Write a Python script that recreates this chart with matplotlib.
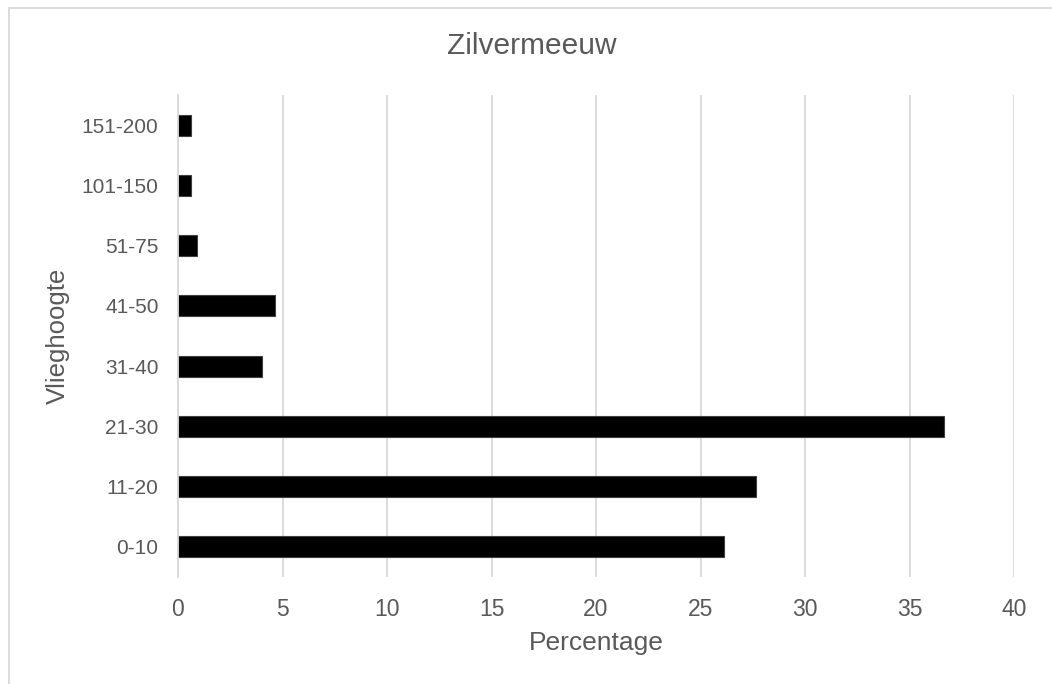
import matplotlib
matplotlib.use("Agg")
import matplotlib.pyplot as plt
from matplotlib.lines import Line2D

# flight height classes (bottom to top) and share of observations
hoogte = ["0-10", "11-20", "21-30", "31-40", "41-50", "51-75", "101-150", "151-200"]
percentage = [26.1, 27.65, 36.65, 4.0, 4.65, 0.9, 0.6, 0.6]

tekst_kleur = "#595959"
grid_kleur = "#d9d9d9"

plt.rcParams["font.family"] = ["Liberation Sans", "DejaVu Sans"]

fig = plt.figure(figsize=(10.52, 6.84), dpi=100)
ax = fig.add_axes([0.1692, 0.1564, 0.7947, 0.7047])

posities = list(range(len(hoogte)))
ax.barh(posities, percentage, height=0.35, color="black",
        edgecolor="#404040", linewidth=0.8, zorder=3)

ax.set_xlim(0, 40)
ax.set_ylim(-0.5, len(hoogte) - 0.5)
ax.set_xticks(range(0, 41, 5))
ax.set_yticks(posities)
ax.set_yticklabels(hoogte)

ax.grid(axis="x", color=grid_kleur, linewidth=1.3, zorder=0)
ax.grid(axis="y", visible=False)
for kant in ["top", "right", "bottom"]:
    ax.spines[kant].set_visible(False)
ax.spines["left"].set_color(grid_kleur)
ax.spines["left"].set_linewidth(1.3)
ax.spines["left"].set_zorder(4)

ax.tick_params(axis="both", length=0, colors=tekst_kleur)
ax.tick_params(axis="x", pad=15, labelsize=16.5)
ax.tick_params(axis="y", pad=14, labelsize=15)

ax.set_xlabel("Percentage", fontsize=19, color=tekst_kleur, labelpad=7)
ax.set_ylabel("Vlieghoogte", fontsize=18.5, color=tekst_kleur, labelpad=8.5)

fig.text(532 / 1052, 1 - 46 / 684, "Zilvermeeuw", fontsize=21.5,
         color=tekst_kleur, ha="center", va="center")

# light frame around the chart area
x0, y0 = 8.5 / 1052, 1 - 7.5 / 684
fig.add_artist(Line2D([x0, 1.01], [y0, y0], transform=fig.transFigure,
                      color=grid_kleur, linewidth=1.3))
fig.add_artist(Line2D([x0, x0], [-0.01, y0], transform=fig.transFigure,
                      color=grid_kleur, linewidth=1.3))

fig.savefig("out.png", dpi=100, facecolor="white")
